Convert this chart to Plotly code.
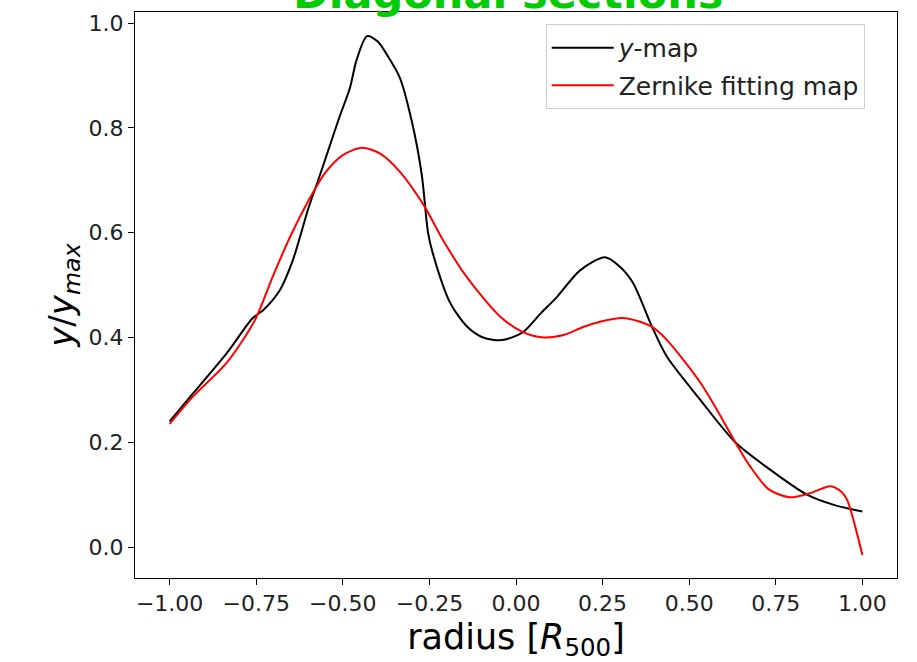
import plotly.graph_objects as go

# y-map (black)
ymap_x = [-1.00, -0.93, -0.835, -0.76, -0.73, -0.682, -0.644, -0.62, -0.60, -0.566, -0.543, -0.51,
          -0.48, -0.46, -0.43, -0.40, -0.373, -0.335, -0.30, -0.272, -0.254, -0.24, -0.19, -0.14,
          -0.095, -0.04, 0.02, 0.07, 0.118, 0.185, 0.257, 0.30, 0.338, 0.393, 0.436, 0.532, 0.633,
          0.725, 0.84, 0.92, 1.00]
ymap_y = [0.24, 0.295, 0.37, 0.437, 0.452, 0.49, 0.548, 0.60, 0.645, 0.71, 0.755, 0.82,
          0.875, 0.93, 0.975, 0.965, 0.94, 0.895, 0.81, 0.71, 0.60, 0.56, 0.466, 0.42,
          0.40, 0.395, 0.41, 0.445, 0.477, 0.528, 0.553, 0.535, 0.504, 0.42, 0.363, 0.281, 0.20,
          0.152, 0.10, 0.08, 0.068]

# Zernike fitting map (red)
zern_x = [-1.00, -0.933, -0.835, -0.754, -0.70, -0.65, -0.60, -0.55, -0.50, -0.445, -0.39,
          -0.335, -0.266, -0.211, -0.142, -0.046, 0.02, 0.078, 0.14, 0.194, 0.243, 0.306, 0.358,
          0.393, 0.436, 0.532, 0.58, 0.633, 0.676, 0.73, 0.79, 0.85, 0.908, 0.94, 0.956, 0.975, 1.00]
zern_y = [0.235, 0.287, 0.352, 0.433, 0.52, 0.595, 0.66, 0.715, 0.748, 0.762, 0.75,
          0.716, 0.652, 0.586, 0.515, 0.44, 0.41, 0.40, 0.405, 0.42, 0.43, 0.437, 0.43,
          0.42, 0.395, 0.314, 0.262, 0.20, 0.154, 0.11, 0.095, 0.103, 0.116, 0.105, 0.09, 0.05, -0.015]

x_ticks = [-1.0, -0.75, -0.5, -0.25, 0.0, 0.25, 0.5, 0.75, 1.0]
y_ticks = [0.0, 0.2, 0.4, 0.6, 0.8, 1.0]

FONT = "DejaVu Sans"

fig = go.Figure()
fig.add_trace(go.Scatter(x=ymap_x, y=ymap_y, mode="lines", name="<i>y</i>-map",
                         line=dict(color="black", width=2, shape="spline", smoothing=0.8),
                         legendgroup="a"))
fig.add_trace(go.Scatter(x=zern_x, y=zern_y, mode="lines", name="Zernike fitting map",
                         line=dict(color="red", width=2, shape="spline", smoothing=0.8),
                         legendgroup="b"))

axis_common = dict(showline=True, mirror=True, linecolor="black", linewidth=1,
                   ticks="outside", ticklen=6, tickcolor="black", showgrid=False,
                   zeroline=False, tickfont=dict(family=FONT, size=22, color="#222"))

fig.update_xaxes(range=[-1.1, 1.1], tickvals=x_ticks, tickformat=".2f",
                 title=dict(text="radius [<i>R</i><sub>500</sub>]",
                            font=dict(family=FONT, size=35, color="black"), standoff=10),
                 **axis_common)
fig.update_yaxes(range=[-0.059, 1.021], tickvals=y_ticks, tickformat=".1f",
                 title=dict(text="<i>y</i>/<i>y</i><sub><i>max</i></sub>",
                            font=dict(family=FONT, size=34, color="black"), standoff=4),
                 **axis_common)

fig.add_annotation(text="<b>Diagonal sections</b>", xref="paper", yref="paper",
                   x=0.49, y=1, xanchor="center", yanchor="bottom", yshift=-8,
                   showarrow=False, font=dict(family=FONT, size=43, color="#00cc00"))

fig.update_layout(
    width=917, height=662,
    margin=dict(l=135, r=20, t=11, b=83),
    plot_bgcolor="white", paper_bgcolor="white",
    showlegend=True,
    legend=dict(x=0.539, y=0.979, xanchor="left", yanchor="top",
                bgcolor="white", bordercolor="#cccccc", borderwidth=1,
                font=dict(family=FONT, size=25, color="#222"),
                tracegroupgap=2, itemwidth=62),
)

fig.write_html("out.html")
